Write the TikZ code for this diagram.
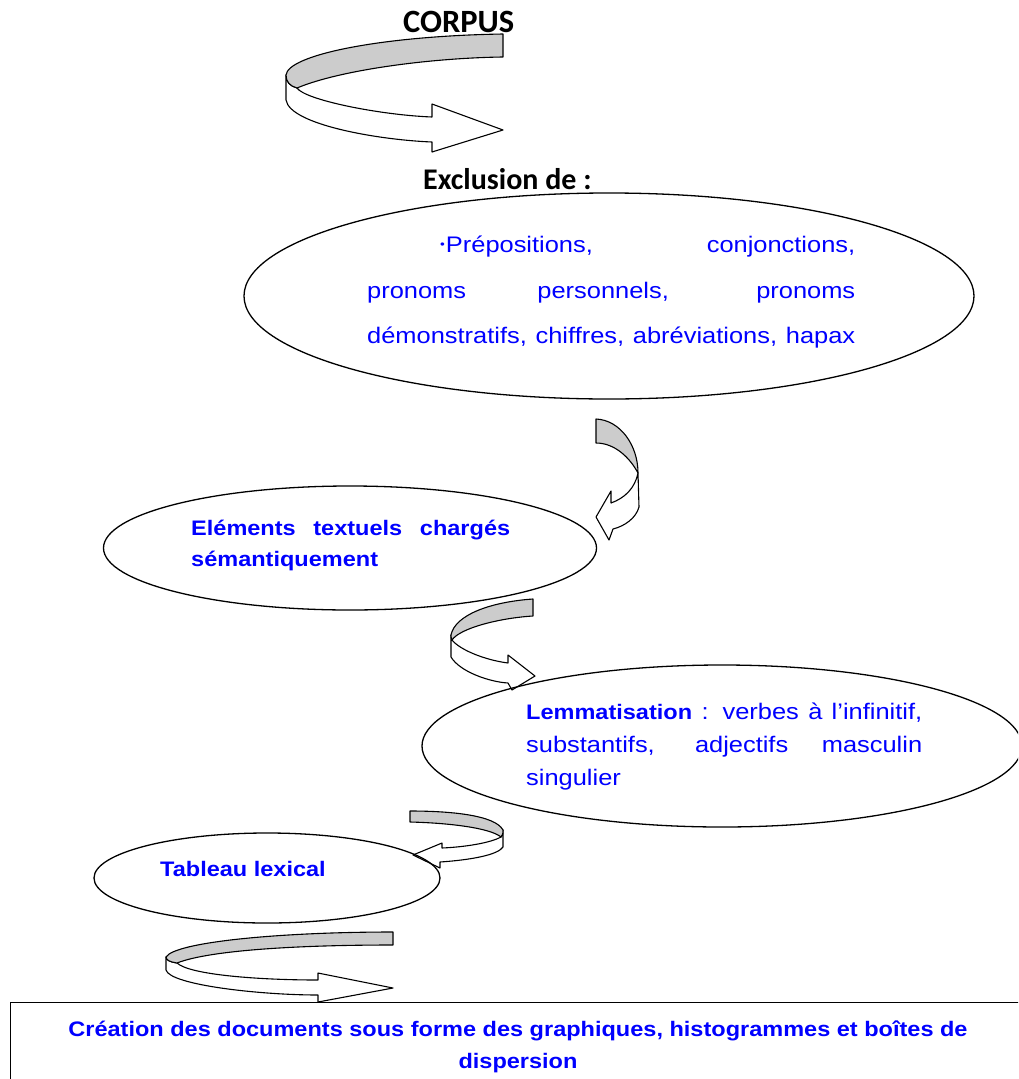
\documentclass[tikz,border=0pt]{standalone}
\usepackage{fontspec}
\setmainfont{Liberation Sans}
\newfontfamily\regf[FakeStretch=1.13]{Liberation Sans}
\newfontfamily\medf[FakeStretch=1.12]{Liberation Sans}
\newfontfamily\calf{Carlito}
\definecolor{tblue}{RGB}{0,0,255}
\definecolor{bandgray}{RGB}{204,204,204}
\tikzset{
  oval/.style={draw=black,line width=1.3pt,ellipse},
  band/.style={draw=black,line width=1.1pt,line join=round},
  greyband/.style={band,fill=bandgray},
  whiteband/.style={band,fill=white},
  txt/.style={inner sep=0pt,anchor=base west,text=tblue},
  reg/.style={txt,font=\regf\fontsize{22.5}{26}\selectfont},
  med/.style={txt,font=\medf\bfseries\fontsize{21}{25}\selectfont},
  ttl/.style={inner sep=0pt,anchor=base west,font=\calf\bfseries\fontsize{32.5}{36}\selectfont}
}
\usetikzlibrary{shapes.geometric}
\begin{document}
\begin{tikzpicture}[x=1pt,y=-1pt]
\useasboundingbox (0,0) rectangle (1018,1079);
\clip (0,0) rectangle (1018,1079);
\fill[white] (0,0) rectangle (1018,1079);

% titles
\node[ttl] (corpus) at (403,32) {CORPUS};
\node[ttl,font=\calf\bfseries\fontsize{30}{34}\selectfont] (excl) at (423,189) {Exclusion de :};

% arrow 1
\draw[whiteband] (286,75) -- (286,100) .. controls (290,125) and (380,140) .. (432,142) -- (432,152) -- (503,130) -- (432,104) -- (432,117) .. controls (380,115) and (305,100) .. (297,88) .. controls (290,86) and (286,82) .. (286,75) -- cycle;
\draw[greyband] (503,34) .. controls (380,36) and (288,55) .. (286,75) .. controls (286,82) and (290,86) .. (297,88) .. controls (340,70) and (430,58) .. (503,57) -- cycle;

% ellipse 1
\node[oval,minimum width=730pt,minimum height=206pt] (e1) at (609,296) {};
\node[reg] (e1l1) at (440,252) {\makebox[415pt][s]{{\fontsize{12}{12}\selectfont\raisebox{4pt}{•}}\kern1pt Prépositions, conjonctions,}};
\node[reg] (e1l2) at (367,298) {\makebox[488pt][s]{pronoms personnels, pronoms}};
\node[reg] (e1l3) at (367,343) {\makebox[488pt][s]{démonstratifs, chiffres, abréviations, hapax}};

% arrow 2
\draw[whiteband] (638,473) -- (639,507) .. controls (636,518) and (625,526) .. (613,529) -- (609,540) -- (596,517) -- (611,491) -- (611,503) .. controls (625,498) and (635,488) .. (638,473) -- cycle;
\draw[greyband] (596,419) .. controls (620,420) and (638,445) .. (638,473) .. controls (630,458) and (615,443) .. (596,443) -- cycle;

% ellipse 2
\node[oval,minimum width=493pt,minimum height=124pt] (e2) at (350,548) {};
\node[med] (e2l1) at (191,535) {\makebox[319pt][s]{Eléments textuels chargés}};
\node[med] (e2l2) at (191,566) {sémantiquement};

% arrow 3
\draw[whiteband] (451,635) -- (451,657) .. controls (460,672) and (490,682) .. (508,683) -- (512,690) -- (535,676) -- (508,655) -- (508,663) .. controls (485,660) and (460,650) .. (452,640) -- cycle;
\draw[greyband] (533,599) -- (533,616) .. controls (500,618) and (460,628) .. (452,640) .. controls (451,638) and (451,636) .. (451,635) .. controls (455,615) and (490,602) .. (533,599) -- cycle;

% ellipse 3
\node[oval,minimum width=600pt,minimum height=162pt] (e3) at (722,746) {};
\node[txt] (e3l1) at (526,719) {\makebox[396pt][s]{\medf\bfseries\fontsize{21}{25}\selectfont Lemmatisation\regf\mdseries\fontsize{22.5}{26}\selectfont{} : verbes à l’infinitif,}};
\node[reg] (e3l2) at (526,752) {\makebox[396pt][s]{substantifs, adjectifs masculin}};
\node[reg] (e3l3) at (526,785) {singulier};

% arrow 4
\draw[whiteband] (501,837) .. controls (490,843) and (465,847) .. (442,848) -- (442,843) -- (413,855) -- (440,868) -- (440,862) .. controls (470,860) and (498,855) .. (503,847) -- (503,830) .. controls (503,833) and (502,835) .. (501,837) -- cycle;
\draw[greyband] (410,811) -- (410,822) .. controls (450,823) and (490,828) .. (501,837) .. controls (503,835) and (503,833) .. (503,830) .. controls (495,815) and (450,811) .. (410,811) -- cycle;

% ellipse 4
\node[oval,minimum width=346pt,minimum height=90pt] (e4) at (267,878) {};
\node[med] (e4l1) at (160,876) {Tableau lexical};

% arrow 5
\draw[whiteband] (166,957) -- (166,970) .. controls (170,985) and (260,995) .. (318,995) -- (318,1002) -- (393,988) -- (318,973) -- (318,980) .. controls (260,980) and (190,975) .. (177,963) .. controls (170,962) and (166,960) .. (166,957) -- cycle;
\draw[greyband] (393,932) -- (393,945) .. controls (300,945) and (210,950) .. (177,963) .. controls (170,962) and (166,960) .. (166,957) .. controls (175,942) and (280,932) .. (393,932) -- cycle;

% bottom box
\node[draw=black,line width=1.3pt,minimum width=1030pt,minimum height=100pt,anchor=north west,inner sep=0pt] (box) at (10,1002) {};
\node[med,anchor=base] (b1) at (518,1036) {Création des documents sous forme des graphiques, histogrammes et boîtes de};
\node[med,anchor=base] (b2) at (518,1068) {dispersion};
\end{tikzpicture}
\end{document}
